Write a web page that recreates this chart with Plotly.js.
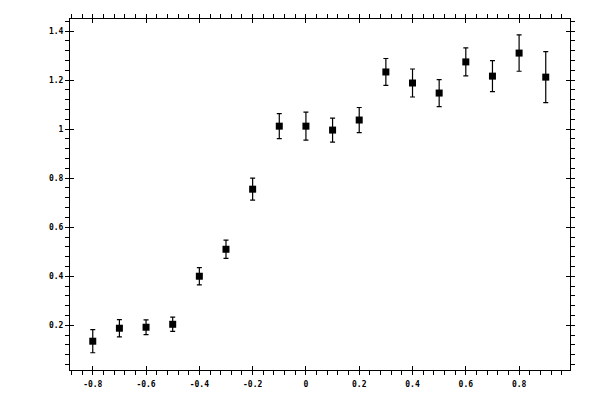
<!DOCTYPE html>
<html>
<head>
<meta charset="utf-8">
<script src="https://cdn.plot.ly/plotly-3.0.1.min.js"></script>
<style>html,body{margin:0;padding:0;background:#fff}#chart{width:600px;height:400px}</style>
</head>
<body>
<div id="chart"></div>
<script>
var xValues = [-0.8, -0.7, -0.6, -0.5, -0.4, -0.3, -0.2, -0.1, 0, 0.1, 0.2, 0.3, 0.4, 0.5, 0.6, 0.7, 0.8, 0.9];
var yValues = [0.135, 0.188, 0.192, 0.204, 0.400, 0.510, 0.755, 1.012, 1.012, 0.996, 1.037, 1.233, 1.188, 1.147, 1.274, 1.216, 1.310, 1.212];
var yErrors = [0.047, 0.035, 0.030, 0.029, 0.035, 0.037, 0.045, 0.051, 0.057, 0.049, 0.051, 0.055, 0.057, 0.055, 0.057, 0.063, 0.074, 0.104];
var xTickVals = [-0.8, -0.6, -0.4, -0.2, 0, 0.2, 0.4, 0.6, 0.8];
var xTickText = ['-0.8', '-0.6', '-0.4', '-0.2', '0', '0.2', '0.4', '0.6', '0.8'];
var yTickVals = [0.2, 0.4, 0.6, 0.8, 1, 1.2, 1.4];
var yTickText = ['0.2', '0.4', '0.6', '0.8', '1', '1.2', '1.4'];

var xRange = [-0.8854, 0.991];
var yRange = [0.0176, 1.449];
var tickFont = {family: 'DejaVu Sans Mono, monospace', size: 8, color: '#000', weight: 'bold'};

var main = {
  x: xValues, y: yValues, type: 'scatter', mode: 'markers',
  marker: {symbol: 'square', size: 7, color: '#000'},
  error_y: {type: 'data', array: yErrors, visible: true, color: '#000', thickness: 1.2, width: 2.5},
  hoverinfo: 'skip', showlegend: false, xaxis: 'x', yaxis: 'y'
};
var ghost = {
  x: xValues, y: yValues, type: 'scatter', mode: 'markers',
  marker: {size: 1, opacity: 0}, hoverinfo: 'skip', showlegend: false,
  xaxis: 'x2', yaxis: 'y2'
};

function baseAxis(range, vals, text) {
  return {
    range: range, autorange: false, tickmode: 'array', tickvals: vals, ticktext: text,
    showgrid: false, zeroline: false, tickcolor: '#000', tickwidth: 1, ticklen: 4,
    tickfont: tickFont, fixedrange: true
  };
}

var xa = baseAxis(xRange, xTickVals, xTickText);
xa.ticks = 'outside'; xa.mirror = 'allticks'; xa.showline = true; xa.linecolor = '#000'; xa.linewidth = 1;
xa.minor = {tickmode: 'linear', tick0: -0.8, dtick: 0.04, ticks: 'outside', ticklen: 4, tickcolor: '#000', tickwidth: 1, showgrid: false};
xa.ticklabelstandoff = 2;

var ya = baseAxis(yRange, yTickVals, yTickText);
ya.ticks = 'outside'; ya.mirror = 'allticks'; ya.showline = true; ya.linecolor = '#000'; ya.linewidth = 1;
ya.minor = {tickmode: 'linear', tick0: 0.2, dtick: 0.04, ticks: 'outside', ticklen: 4, tickcolor: '#000', tickwidth: 1, showgrid: false};
ya.ticklabelstandoff = 0;

var xa2 = baseAxis(xRange, xTickVals, xTickText);
xa2.ticks = 'inside'; xa2.mirror = 'allticks'; xa2.showline = false; xa2.showticklabels = false; xa2.overlaying = 'x';

var ya2 = baseAxis(yRange, yTickVals, yTickText);
ya2.ticks = 'inside'; ya2.mirror = 'allticks'; ya2.showline = false; ya2.showticklabels = false; ya2.overlaying = 'y';

var layout = {
  width: 600, height: 400,
  margin: {l: 70, r: 30, t: 19, b: 30, pad: 0},
  paper_bgcolor: '#fff', plot_bgcolor: '#fff',
  showlegend: false,
  xaxis: xa, yaxis: ya, xaxis2: xa2, yaxis2: ya2
};

Plotly.newPlot('chart', [main, ghost], layout, {staticPlot: true, displayModeBar: false});
</script>
</body>
</html>
